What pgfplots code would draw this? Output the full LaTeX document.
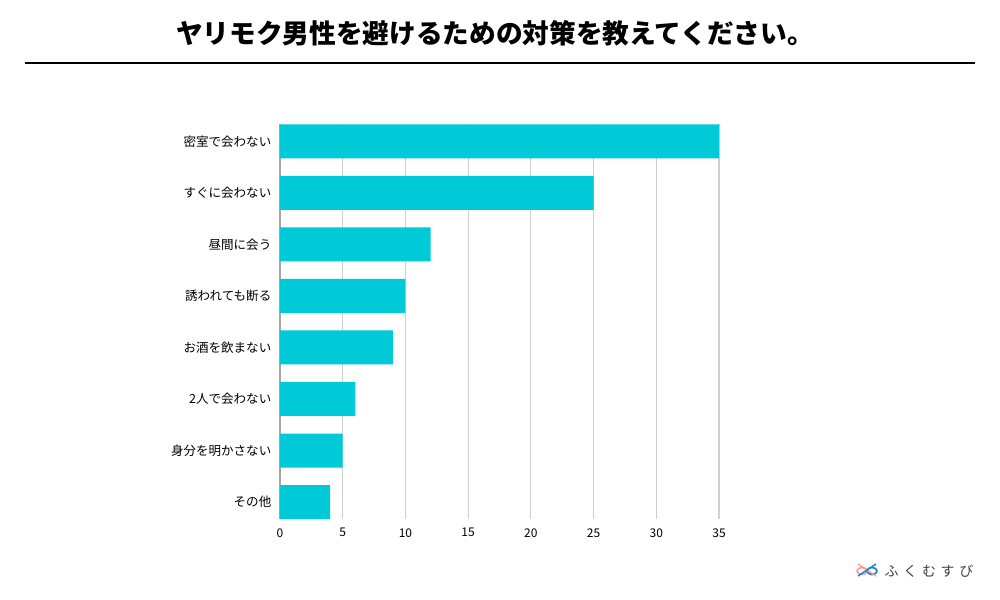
\documentclass[border=0pt]{standalone}
\usepackage{pgfplots}
\pgfplotsset{compat=1.18}
\usepackage{fontspec}
\setmainfont{Noto Sans CJK JP}
\definecolor{barc}{HTML}{00C9D8}
\definecolor{gridc}{HTML}{D0D0D0}
\begin{document}
\begin{tikzpicture}[x=0.75pt,y=0.75pt]
\fill[white] (0,0) rectangle (1000,600);
% title
\node[font=\fontsize{20pt}{22pt}\selectfont\bfseries] at (495,567) {ヤリモク男性を避けるための対策を教えてください。};
\draw[line width=0.9pt] (25,537) -- (975,537);
\begin{axis}[
  at={(210pt,60.75pt)}, anchor=south west,
  scale only axis, width=329.25pt, height=295.9pt,
  xmin=0, xmax=35, ymin=-0.33, ymax=7.33, y dir=reverse,
  xbar, bar width=25.5pt, bar shift=0pt,
  xtick={0,5,...,35}, ytick={0,...,7},
  yticklabels={密室で会わない,すぐに会わない,昼間に会う,誘われても断る,お酒を飲まない,2人で会わない,身分を明かさない,その他},
  axis lines*=left,
  x axis line style={draw=none},
  y axis line style={draw=gridc!80!black, line width=0.8pt},
  xmajorgrids, grid style={gridc, line width=0.8pt},
  major tick length=0pt,
  yticklabel style={font=\fontsize{9.4pt}{11pt}\selectfont, xshift=-3pt},
  xticklabel style={font=\fontsize{9pt}{11pt}\selectfont, yshift=-3.5pt},
  /pgf/number format/assume math mode=true,
  clip=false,
]
\addplot[draw=none, fill=barc] coordinates {(35,0) (25,1) (12,2) (10,3) (9,4) (6,5) (5,6) (4,7)};
\end{axis}
% watermark
\begin{scope}[shift={(867,29)}]
\draw[pink!80!red, line width=1.2pt] (-5,0) ellipse (5 and 3.5);
\draw[cyan!70!blue, line width=1.2pt] (5,0) ellipse (5 and 3.5);
\draw[pink!80!red, line width=1.1pt] (-9,7) -- (9,-5);
\draw[cyan!70!blue, line width=1.1pt] (9,7) -- (-9,-5);
\end{scope}
\node[anchor=west, text=black!75, font=\fontsize{10.5pt}{12pt}\selectfont] at (880,29) {ふ\hspace{3.5pt}く\hspace{3.5pt}む\hspace{3.5pt}す\hspace{3.5pt}び};
\end{tikzpicture}
\end{document}
